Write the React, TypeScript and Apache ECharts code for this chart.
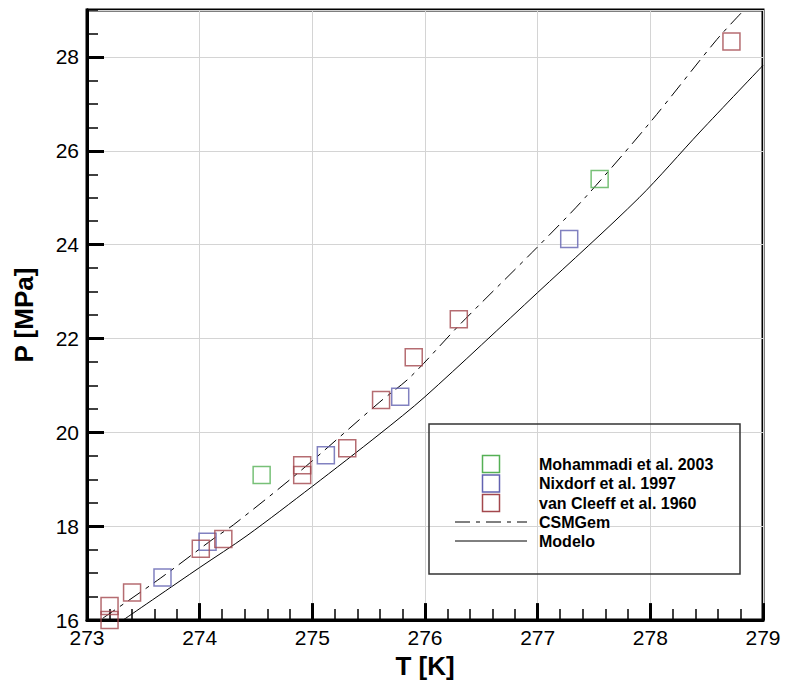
import React, { useEffect, useRef } from "react";
import * as echarts from "echarts";

// ---- data ----
const mohammadiT = [274.55, 277.55];
const mohammadiP = [19.09, 25.4];

const nixdorfT = [273.67, 274.07, 275.12, 275.78, 277.28];
const nixdorfP = [16.91, 17.67, 19.51, 20.76, 24.12];

const vanCleeffT = [273.2, 273.2, 273.4, 274.01, 274.21, 274.91, 274.91, 275.31, 275.61, 275.9, 276.3, 278.72];
const vanCleeffP = [16.0, 16.3, 16.59, 17.52, 17.73, 19.09, 19.3, 19.66, 20.69, 21.6, 22.41, 28.33];

const csmgemT = [273.14, 273.65, 274.12, 274.3, 274.89, 275.6, 275.87, 276.31, 276.99, 277.42, 278.0, 278.59, 278.82];
const csmgemP = [16.04, 16.89, 17.73, 18.03, 19.17, 20.65, 21.18, 22.3, 23.93, 25.0, 26.61, 28.37, 28.97];

const modeloT = [273.32, 274.0, 274.42, 275.0, 275.6, 276.0, 277.0, 277.9, 278.44, 279.0];
const modeloP = [16.0, 17.12, 17.8, 18.85, 19.97, 20.76, 22.98, 25.0, 26.4, 27.82];

const legendNames = ["Mohammadi et al. 2003", "Nixdorf et al. 1997", "van Cleeff et al. 1960", "CSMGem", "Modelo"];
const colors = { green: "#55b055", blue: "#6262b0", red: "#a3474d" };

const zip = (xs: number[], ys: number[]) => xs.map((x, i) => [x, ys[i]]);
const FONT = "'Liberation Sans', Arial, sans-serif";

export default function App() {
  const ref = useRef<HTMLDivElement>(null);
  useEffect(() => {
    if (!ref.current) return;
    const chart = echarts.init(ref.current, undefined, { renderer: "svg" });

    const scatter = (name: string, xs: number[], ys: number[], c: string) => ({
      name,
      type: "scatter",
      data: zip(xs, ys),
      symbol: "rect",
      symbolSize: 17,
      clip: false,
      itemStyle: { color: "rgba(0,0,0,0)", borderColor: c, borderWidth: 1.5 },
      z: 5,
    });

    // legend drawn as graphics
    const lx = 455, lw = 72, mx = 491, tx = 539;
    const rows = [464, 483.5, 503, 522, 541];
    const legendGraphics: any[] = [
      { type: "rect", shape: { x: 429, y: 424, width: 311, height: 150 }, style: { fill: "none", stroke: "#333", lineWidth: 1.5 }, z: 10 },
      { type: "rect", shape: { x: mx - 8.5, y: rows[0] - 8.5, width: 17, height: 17 }, style: { fill: "none", stroke: colors.green, lineWidth: 1.5 }, z: 10 },
      { type: "rect", shape: { x: mx - 8.5, y: rows[1] - 8.5, width: 17, height: 17 }, style: { fill: "none", stroke: colors.blue, lineWidth: 1.5 }, z: 10 },
      { type: "rect", shape: { x: mx - 8.5, y: rows[2] - 8.5, width: 17, height: 17 }, style: { fill: "none", stroke: colors.red, lineWidth: 1.5 }, z: 10 },
      { type: "line", shape: { x1: lx, y1: rows[3], x2: lx + lw, y2: rows[3] }, style: { stroke: "#000", lineWidth: 1, lineDash: [15, 6, 4, 6] }, z: 10 },
      { type: "line", shape: { x1: lx, y1: rows[4], x2: lx + lw, y2: rows[4] }, style: { stroke: "#000", lineWidth: 1 }, z: 10 },
      ...legendNames.map((n, i) => ({
        type: "text",
        x: tx,
        y: rows[i],
        style: { text: n, fill: "#000", font: `bold 16px ${FONT}`, textAlign: "left", textVerticalAlign: "middle" },
        z: 10,
      })),
    ];

    chart.setOption({
      animation: false,
      backgroundColor: "#fff",
      grid: { left: 87, right: 22, top: 10, bottom: 59, show: true, borderColor: "#000", borderWidth: 3 },
      xAxis: {
        type: "value",
        min: 273,
        max: 279,
        interval: 1,
        name: "T [K]",
        nameLocation: "middle",
        nameGap: 27,
        nameTextStyle: { fontFamily: FONT, fontSize: 26, fontWeight: "bold", color: "#000" },
        axisLine: { show: true, lineStyle: { color: "#000", width: 3 } },
        axisTick: { show: true, inside: true, length: 17, lineStyle: { color: "#000", width: 3 } },
        minorTick: { show: true, splitNumber: 5, length: 11, lineStyle: { color: "#000", width: 1.5 } },
        axisLabel: { fontFamily: FONT, fontSize: 21, color: "#000", margin: 7 },
        splitLine: { show: true, lineStyle: { color: "#d4d4d4", width: 1 } },
        minorSplitLine: { show: false },
      },
      yAxis: [
        {
          type: "value",
          position: "left",
          min: 16,
          max: 29,
          interval: 0.5,
          axisLine: { show: true, lineStyle: { color: "#000", width: 3 } },
          axisTick: { show: true, inside: true, length: 11, lineStyle: { color: "#000", width: 1.5 } },
          axisLabel: { show: false },
          splitLine: { show: false },
        },
        {
          type: "value",
          position: "left",
          min: 16,
          max: 29,
          interval: 2,
          name: "P [MPa]",
          nameLocation: "middle",
          nameRotate: 90,
          nameGap: 50,
          nameTextStyle: { fontFamily: FONT, fontSize: 26, fontWeight: "bold", color: "#000" },
          axisLine: { show: true, lineStyle: { color: "#000", width: 3 } },
          axisTick: { show: true, inside: true, length: 17, lineStyle: { color: "#000", width: 3 } },
          axisLabel: { fontFamily: FONT, fontSize: 21, color: "#000", margin: 8, showMaxLabel: false },
          splitLine: { show: true, lineStyle: { color: "#d4d4d4", width: 1 } },
        },
      ],
      series: [
        {
          name: "CSMGem",
          type: "line",
          data: zip(csmgemT, csmgemP),
          smooth: 0.3,
          showSymbol: false,
          symbol: "none",
          lineStyle: { color: "#000", width: 1, type: [15, 6, 4, 6] },
          z: 3,
        },
        {
          name: "Modelo",
          type: "line",
          data: zip(modeloT, modeloP),
          smooth: 0.3,
          showSymbol: false,
          symbol: "none",
          lineStyle: { color: "#000", width: 1 },
          z: 3,
        },
        scatter("Mohammadi et al. 2003", mohammadiT, mohammadiP, colors.green),
        scatter("Nixdorf et al. 1997", nixdorfT, nixdorfP, colors.blue),
        scatter("van Cleeff et al. 1960", vanCleeffT, vanCleeffP, colors.red),
      ],
      graphic: legendGraphics,
    });
    return () => chart.dispose();
  }, []);
  return <div ref={ref} style={{ position: "absolute", left: 0, top: 0, width: 785, height: 684 }} />;
}
